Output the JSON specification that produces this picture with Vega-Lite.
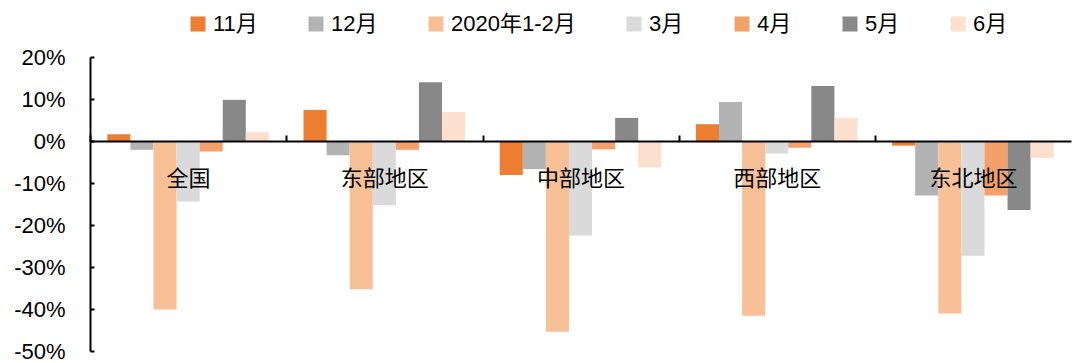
{
  "$schema": "https://vega.github.io/schema/vega-lite/v6.json",
  "width": 981,
  "height": 294,
  "autosize": {"type": "none"},
  "padding": {"left": 90, "top": 57, "right": 3, "bottom": 12},
  "background": "white",
  "config": {
    "view": {"stroke": null},
    "font": "Liberation Sans, Noto Sans CJK SC"
  },
  "data": {
    "values": [
      {"region": "全国", "month": "11月", "value": 0.016},
      {"region": "全国", "month": "12月", "value": -0.021},
      {"region": "全国", "month": "2020年1-2月", "value": -0.401},
      {"region": "全国", "month": "3月", "value": -0.144},
      {"region": "全国", "month": "4月", "value": -0.025},
      {"region": "全国", "month": "5月", "value": 0.098},
      {"region": "全国", "month": "6月", "value": 0.021},
      {"region": "东部地区", "month": "11月", "value": 0.074},
      {"region": "东部地区", "month": "12月", "value": -0.034},
      {"region": "东部地区", "month": "2020年1-2月", "value": -0.353},
      {"region": "东部地区", "month": "3月", "value": -0.153},
      {"region": "东部地区", "month": "4月", "value": -0.021},
      {"region": "东部地区", "month": "5月", "value": 0.140},
      {"region": "东部地区", "month": "6月", "value": 0.069},
      {"region": "中部地区", "month": "11月", "value": -0.081},
      {"region": "中部地区", "month": "12月", "value": -0.067},
      {"region": "中部地区", "month": "2020年1-2月", "value": -0.454},
      {"region": "中部地区", "month": "3月", "value": -0.225},
      {"region": "中部地区", "month": "4月", "value": -0.020},
      {"region": "中部地区", "month": "5月", "value": 0.055},
      {"region": "中部地区", "month": "6月", "value": -0.063},
      {"region": "西部地区", "month": "11月", "value": 0.040},
      {"region": "西部地区", "month": "12月", "value": 0.093},
      {"region": "西部地区", "month": "2020年1-2月", "value": -0.416},
      {"region": "西部地区", "month": "3月", "value": -0.030},
      {"region": "西部地区", "month": "4月", "value": -0.016},
      {"region": "西部地区", "month": "5月", "value": 0.131},
      {"region": "西部地区", "month": "6月", "value": 0.055},
      {"region": "东北地区", "month": "11月", "value": -0.011},
      {"region": "东北地区", "month": "12月", "value": -0.130},
      {"region": "东北地区", "month": "2020年1-2月", "value": -0.411},
      {"region": "东北地区", "month": "3月", "value": -0.273},
      {"region": "东北地区", "month": "4月", "value": -0.130},
      {"region": "东北地区", "month": "5月", "value": -0.164},
      {"region": "东北地区", "month": "6月", "value": -0.040}
    ]
  },
  "mark": {"type": "bar"},
  "encoding": {
    "x": {
      "field": "region",
      "type": "nominal",
      "sort": ["全国", "东部地区", "中部地区", "西部地区", "东北地区"],
      "scale": {"paddingInner": 0, "paddingOuter": 0},
      "axis": {
        "title": null,
        "offset": -210,
        "labelAngle": 0,
        "labelFontSize": 22,
        "labelColor": "black",
        "labelPadding": 33,
        "tickOffset": -98,
        "labelOffset": 98,
        "tickSize": -6,
        "tickWidth": 2,
        "tickColor": "black",
        "domainColor": "black",
        "domainWidth": 2,
        "zindex": 1
      }
    },
    "xOffset": {
      "field": "month",
      "type": "nominal",
      "sort": ["11月", "12月", "2020年1-2月", "3月", "4月", "5月", "6月"],
      "scale": {"paddingInner": 0, "paddingOuter": 0.75}
    },
    "y": {
      "field": "value",
      "type": "quantitative",
      "scale": {"domain": [-0.5, 0.2], "nice": false, "zero": true},
      "axis": {
        "title": null,
        "values": [-0.5, -0.4, -0.3, -0.2, -0.1, 0, 0.1, 0.2],
        "labelExpr": "replace(format(datum.value, '.0%'), '\u2212', '-')",
        "grid": false,
        "labelFontSize": 22,
        "labelColor": "black",
        "labelPadding": 29,
        "tickSize": -4,
        "tickWidth": 2,
        "tickColor": "black",
        "domainColor": "black",
        "domainWidth": 2
      }
    },
    "color": {
      "field": "month",
      "type": "nominal",
      "scale": {
        "domain": ["11月", "12月", "2020年1-2月", "3月", "4月", "5月", "6月"],
        "range": ["#ED7D31", "#B3B3B3", "#F8C097", "#DADADA", "#F3A16A", "#888888", "#FBE1CD"]
      },
      "legend": {
        "title": null,
        "orient": "none",
        "direction": "horizontal",
        "legendX": 97,
        "legendY": -44,
        "symbolType": "square",
        "symbolSize": 225,
        "symbolStrokeWidth": 0,
        "labelFontSize": 22,
        "labelColor": "black",
        "labelOffset": 4,
        "columnPadding": 47
      }
    }
  }
}
